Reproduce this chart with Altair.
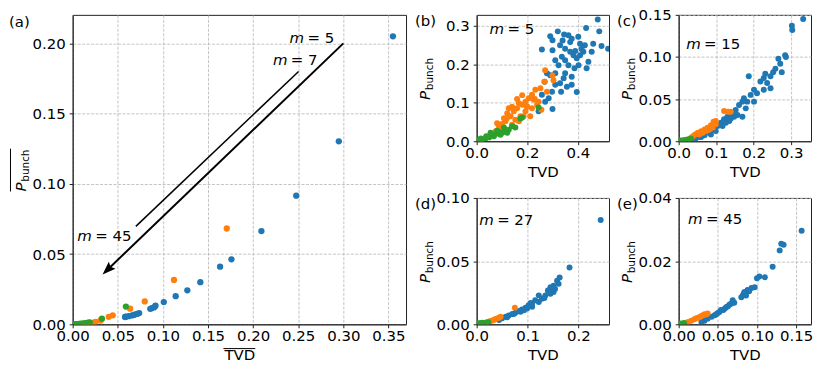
import altair as alt
import pandas as pd

FONT = "DejaVu Sans"
SERIES = ["s1", "s2", "s3"]
COLORS = ["#1f77b4", "#ff7f0e", "#2ca02c"]
FRAME = "#222222"
GRID = "#b4b4b4"

# ---------------- panel (a): averages ----------------
A_BLUE_X = [0.355, 0.295, 0.2478, 0.2092, 0.1760, 0.1634, 0.1415, 0.1271, 0.1142, 0.1010,
            0.0918, 0.0905, 0.0878, 0.0860, 0.0737, 0.0713, 0.0684, 0.0658, 0.0621, 0.0590, 0.0580]
A_BLUE_Y = [0.205, 0.1303, 0.0916, 0.0664, 0.0463, 0.0410, 0.0300, 0.0242, 0.0200, 0.0158,
            0.0132, 0.0122, 0.0115, 0.0110, 0.0080, 0.0074, 0.0068, 0.0063, 0.0058, 0.0054, 0.0052]
A_ORANGE_X = [0.1708, 0.1123, 0.0799, 0.0637, 0.0444, 0.0400, 0.0309, 0.0255, 0.0235, 0.0200, 0.0160, 0.0120]
A_ORANGE_Y = [0.0682, 0.0316, 0.0163, 0.0111, 0.0064, 0.0053, 0.0027, 0.0017, 0.0012, 0.0009, 0.0006, 0.0004]
A_GREEN_X = [0.0590, 0.0324, 0.0190, 0.0170, 0.0150, 0.0130, 0.0110, 0.0090, 0.0070, 0.0050, 0.0030, 0.0010]
A_GREEN_Y = [0.0126, 0.0040, 0.0014, 0.0011, 0.0009, 0.0007, 0.0005, 0.0004, 0.0003, 0.0002, 0.0001, 0.0000]

# ---------------- panel (b): m = 5 ----------------
B_BLUE_X = [0.479, 0.433, 0.485, 0.321, 0.291, 0.300, 0.346, 0.363, 0.376, 0.402, 0.409, 0.428, 0.461,
            0.494, 0.258, 0.300, 0.330, 0.350, 0.370, 0.383, 0.396, 0.409, 0.422, 0.442, 0.403, 0.387,
            0.363, 0.350, 0.337, 0.324, 0.311, 0.291, 0.278, 0.350, 0.376, 0.344, 0.330, 0.311, 0.298,
            0.334, 0.396, 0.285, 0.271, 0.300, 0.245, 0.269, 0.357, 0.258, 0.455, 0.435, 0.311, 0.376,
            0.520, 0.390, 0.370, 0.415, 0.340]
B_BLUE_Y = [0.317, 0.295, 0.286, 0.286, 0.273, 0.263, 0.278, 0.276, 0.267, 0.272, 0.254, 0.250, 0.254,
            0.248, 0.239, 0.237, 0.250, 0.241, 0.233, 0.224, 0.216, 0.224, 0.233, 0.207, 0.198, 0.190,
            0.198, 0.211, 0.220, 0.198, 0.177, 0.172, 0.177, 0.177, 0.168, 0.164, 0.151, 0.147, 0.129,
            0.129, 0.128, 0.112, 0.103, 0.084, 0.078, 0.155, 0.142, 0.121, 0.233, 0.190, 0.211, 0.147,
            0.241, 0.235, 0.258, 0.240, 0.262]
B_ORANGE_X = [0.268, 0.304, 0.300, 0.271, 0.252, 0.278, 0.232, 0.219, 0.206, 0.245, 0.256, 0.193, 0.180,
              0.167, 0.160, 0.147, 0.134, 0.127, 0.193, 0.219, 0.173, 0.153, 0.114, 0.088, 0.101, 0.075,
              0.062, 0.049, 0.140, 0.167, 0.212, 0.239, 0.199, 0.121, 0.108, 0.081, 0.035, 0.022, 0.186,
              0.226, 0.160, 0.180, 0.140, 0.200, 0.230, 0.120, 0.100]
B_ORANGE_Y = [0.155, 0.159, 0.171, 0.185, 0.138, 0.129, 0.134, 0.121, 0.112, 0.103, 0.082, 0.103, 0.095,
              0.099, 0.086, 0.078, 0.065, 0.086, 0.078, 0.086, 0.065, 0.056, 0.052, 0.039, 0.030, 0.026,
              0.017, 0.013, 0.043, 0.052, 0.065, 0.095, 0.091, 0.073, 0.060, 0.047, 0.009, 0.004, 0.065,
              0.108, 0.110, 0.120, 0.090, 0.090, 0.110, 0.060, 0.045]
B_GREEN_X = [0.245, 0.180, 0.173, 0.140, 0.114, 0.088, 0.075, 0.062, 0.049, 0.035, 0.022, 0.009,
             0.101, 0.127, 0.094, 0.068, 0.055, 0.081, 0.108, 0.038, 0.016, 0.003, 0.153, 0.121]
B_GREEN_Y = [0.088, 0.062, 0.059, 0.039, 0.030, 0.024, 0.019, 0.016, 0.010, 0.007, 0.004, 0.002,
             0.022, 0.030, 0.017, 0.013, 0.022, 0.027, 0.036, 0.013, 0.007, 0.002, 0.036, 0.022]

# ---------------- panel (c): m = 15 ----------------
C_BLUE_X = [0.332, 0.302, 0.303, 0.284, 0.286, 0.266, 0.271, 0.252, 0.275, 0.245, 0.231, 0.227, 0.218,
            0.201, 0.187, 0.209, 0.192, 0.174, 0.170, 0.161, 0.183, 0.170, 0.152, 0.143, 0.130, 0.121,
            0.113, 0.104, 0.095, 0.082, 0.069, 0.055, 0.139, 0.157, 0.126, 0.117, 0.236, 0.245, 0.227,
            0.179, 0.201, 0.258, 0.099, 0.086, 0.148, 0.135, 0.060, 0.045]
C_BLUE_Y = [0.145, 0.137, 0.132, 0.102, 0.100, 0.098, 0.092, 0.082, 0.082, 0.077, 0.080, 0.075, 0.071,
            0.061, 0.077, 0.057, 0.055, 0.051, 0.047, 0.043, 0.047, 0.029, 0.037, 0.033, 0.029, 0.026,
            0.022, 0.018, 0.014, 0.010, 0.007, 0.005, 0.027, 0.031, 0.022, 0.018, 0.069, 0.063, 0.061,
            0.039, 0.047, 0.086, 0.012, 0.008, 0.029, 0.024, 0.005, 0.003]
C_ORANGE_X = [0.121, 0.132, 0.139, 0.099, 0.095, 0.086, 0.077, 0.069, 0.060, 0.051, 0.044, 0.038, 0.091,
              0.082, 0.073, 0.064, 0.099, 0.093, 0.055, 0.033, 0.077]
C_ORANGE_Y = [0.036, 0.035, 0.035, 0.024, 0.020, 0.019, 0.016, 0.014, 0.012, 0.010, 0.008, 0.006, 0.016,
              0.014, 0.012, 0.010, 0.020, 0.023, 0.008, 0.004, 0.013]
C_GREEN_X = [0.003, 0.009, 0.016, 0.023, 0.029, 0.033]
C_GREEN_Y = [0.001, 0.001, 0.0016, 0.002, 0.0024, 0.003]

# ---------------- panel (d): m = 27 ----------------
D_BLUE_X = [0.2436, 0.1824, 0.163, 0.158, 0.161, 0.151, 0.145, 0.140, 0.151, 0.135, 0.122, 0.128, 0.115,
            0.109, 0.102, 0.096, 0.089, 0.083, 0.076, 0.070, 0.063, 0.057, 0.050, 0.044, 0.122, 0.109,
            0.099, 0.086, 0.073, 0.145, 0.133, 0.106, 0.093, 0.060, 0.154]
D_BLUE_Y = [0.0826, 0.0449, 0.0371, 0.0345, 0.0320, 0.0306, 0.0294, 0.0268, 0.0255, 0.0229, 0.0229,
            0.0203, 0.0190, 0.0164, 0.0151, 0.0132, 0.0117, 0.0106, 0.0091, 0.0081, 0.0070, 0.0060,
            0.0047, 0.0034, 0.0177, 0.0138, 0.0125, 0.0099, 0.0081, 0.0242, 0.0208, 0.0169, 0.0112,
            0.0055, 0.0280]
D_ORANGE_X = [0.075, 0.047, 0.040, 0.034, 0.027, 0.021, 0.037, 0.031, 0.044]
D_ORANGE_Y = [0.0132, 0.0060, 0.0047, 0.0034, 0.0026, 0.0018, 0.0042, 0.0031, 0.0052]
D_GREEN_X = [0.003, 0.008, 0.012, 0.018, 0.023]
D_GREEN_Y = [0.0008, 0.0010, 0.0013, 0.0013, 0.0016]

# ---------------- panel (e): m = 45 ----------------
E_BLUE_X = [0.157, 0.131, 0.134, 0.129, 0.120, 0.110, 0.103, 0.100, 0.097, 0.093, 0.088, 0.084, 0.082,
            0.086, 0.083, 0.069, 0.067, 0.063, 0.059, 0.054, 0.050, 0.046, 0.042, 0.037, 0.033, 0.029,
            0.061, 0.057, 0.065, 0.071, 0.052, 0.048, 0.090, 0.080]
E_BLUE_Y = [0.0296, 0.0255, 0.0252, 0.0234, 0.0182, 0.0149, 0.0151, 0.0146, 0.0117, 0.0115, 0.0109,
            0.0102, 0.0091, 0.0091, 0.0097, 0.0076, 0.0065, 0.0057, 0.0050, 0.0045, 0.0036, 0.0029,
            0.0024, 0.0018, 0.0011, 0.0007, 0.0055, 0.0045, 0.0063, 0.0068, 0.0039, 0.0032, 0.0105,
            0.0086]
E_ORANGE_X = [0.037, 0.033, 0.029, 0.025, 0.020, 0.016, 0.012, 0.031, 0.035, 0.027, 0.0225]
E_ORANGE_Y = [0.0034, 0.0032, 0.0026, 0.0021, 0.0016, 0.0011, 0.0007, 0.0029, 0.0031, 0.0023, 0.0019]
E_GREEN_X = [0.001, 0.004, 0.007]
E_GREEN_Y = [0.0003, 0.0003, 0.0004]

# ---------------- annotations ----------------
ARROW_X = [0.300, 0.038]
ARROW_Y = [0.200, 0.0385]
ARROW_TIP_X = [0.0331]
ARROW_TIP_Y = [0.0354]
LINE7_X = [0.2504, 0.070]
LINE7_Y = [0.180, 0.0697]
A_LABEL_X = [0.2404, 0.222, 0.0052]
A_LABEL_Y = [0.200, 0.1846, 0.0595]
A_LABEL_REST = ["= 5", "= 7", "= 45"]

ARROW_PATH = "M0,0 L0.36,1 L0,0.84 L-0.36,1 Z"


def points_df(xs_list, ys_list):
    rows = []
    for name, xs, ys in zip(SERIES, xs_list, ys_list):
        for x, y in zip(xs, ys):
            rows.append({"x": x, "y": y, "s": name})
    return pd.DataFrame(rows)


def make_axis(values, fmt, title, label_pad):
    kw = dict(values=values, format=fmt, grid=True, gridColor=GRID, gridDash=[3, 1.5], gridWidth=0.8,
              domainColor=FRAME, domainWidth=1, tickColor=FRAME, tickSize=3.5, tickWidth=1,
              labelFont=FONT, labelFontSize=15, labelColor="black", labelPadding=label_pad,
              labelFlush=False, labelOverlap=False, labelBound=False,
              titleFont=FONT, titleFontSize=15, titleFontWeight="normal", titleColor="black",
              titlePadding=4)
    return alt.Axis(title=title, **kw)


def one(v):
    return pd.DataFrame({"v": [v]})


def panel(df, xdom, ydom, xvals, yvals, xfmt, yfmt, w, h, tag, labels, size,
          xtitle="TVD", extra=None, overline=False):
    X = alt.X("x:Q", scale=alt.Scale(domain=xdom, nice=False, zero=False),
              axis=make_axis(xvals, xfmt, xtitle, 1))
    Y = alt.Y("y:Q", scale=alt.Scale(domain=ydom, nice=False, zero=False),
              axis=make_axis(yvals, yfmt, None, 4))
    pts = alt.Chart(df).mark_circle(size=size, opacity=1, clip=True).encode(
        X, Y, color=alt.Color("s:N", scale=alt.Scale(domain=SERIES, range=COLORS), legend=None))
    layers = []
    if extra is not None:
        layers += extra(X, Y)
    layers.append(pts)
    lab = pd.DataFrame(labels)
    layers.append(alt.Chart(lab).mark_text(font=FONT, fontSize=15, fontStyle="italic", align="left",
                                           baseline="alphabetic", color="black").encode(
        X, Y, text=alt.value("m")))
    layers.append(alt.Chart(lab).mark_text(font=FONT, fontSize=15, align="left", dx=18,
                                           baseline="alphabetic", color="black").encode(
        X, Y, text="rest:N"))
    # panel tag
    tx, ty = (-64, 7) if tag == "(a)" else (-62, 6)
    layers.append(alt.Chart(one(tag)).mark_text(font=FONT, fontSize=15, align="left", baseline="middle",
                                                color="black").encode(
        x=alt.value(tx), y=alt.value(ty), text="v:N"))
    # y title: P_bunch
    layers.append(alt.Chart(one("P")).mark_text(font=FONT, fontSize=15, fontStyle="italic", angle=270,
                                                align="left", baseline="alphabetic", color="black").encode(
        x=alt.value(-47), y=alt.value(h / 2 + 22), text="v:N"))
    layers.append(alt.Chart(one("bunch")).mark_text(font=FONT, fontSize=10.5, angle=270,
                                                    align="left", baseline="alphabetic", color="black").encode(
        x=alt.value(-44), y=alt.value(h / 2 + 12.2), text="v:N"))
    if overline:
        layers.append(alt.Chart(one(0)).mark_rule(color="black", strokeWidth=1).encode(
            x=alt.value(-62.5), y=alt.value(h / 2 - 21), y2=alt.value(h / 2 + 22)))
        layers.append(alt.Chart(one(0)).mark_rule(color="black", strokeWidth=1).encode(
            x=alt.value(w / 2 - 16), x2=alt.value(w / 2 + 16), y=alt.value(h + 24.4)))
    return alt.layer(*layers).properties(width=w, height=h)


def a_extra(X, Y):
    arrow = alt.Chart(pd.DataFrame({"x": ARROW_X, "y": ARROW_Y})).mark_line(
        color="black", strokeWidth=2).encode(X, Y)
    line7 = alt.Chart(pd.DataFrame({"x": LINE7_X, "y": LINE7_Y})).mark_line(
        color="black", strokeWidth=1.5).encode(X, Y)
    head = alt.Chart(pd.DataFrame({"x": ARROW_TIP_X, "y": ARROW_TIP_Y})).mark_point(
        shape=ARROW_PATH, filled=True, size=720, angle=226, color="black", opacity=1,
        strokeWidth=0).encode(X, Y)
    return [line7, arrow, head]


a = panel(points_df([A_BLUE_X, A_ORANGE_X, A_GREEN_X], [A_BLUE_Y, A_ORANGE_Y, A_GREEN_Y]),
          [0, 0.3695], [0, 0.2203],
          [0, 0.05, 0.10, 0.15, 0.20, 0.25, 0.30, 0.35], [0, 0.05, 0.10, 0.15, 0.20],
          ".2f", ".2f", 335, 311, "(a)",
          {"x": A_LABEL_X, "y": A_LABEL_Y, "rest": A_LABEL_REST}, 40,
          xtitle="TVD", extra=a_extra, overline=True)

b = panel(points_df([B_BLUE_X, B_ORANGE_X, B_GREEN_X], [B_BLUE_Y, B_ORANGE_Y, B_GREEN_Y]),
          [0, 0.5236], [0, 0.329], [0, 0.2, 0.4], [0, 0.1, 0.2, 0.3], ".1f", ".1f", 133, 127, "(b)",
          {"x": [0.051], "y": [0.28], "rest": ["= 5"]}, 36)
c = panel(points_df([C_BLUE_X, C_ORANGE_X, C_GREEN_X], [C_BLUE_Y, C_ORANGE_Y, C_GREEN_Y]),
          [0, 0.353], [0, 0.15], [0, 0.1, 0.2, 0.3], [0, 0.05, 0.10, 0.15], ".1f", ".2f", 133, 127, "(c)",
          {"x": [0.020], "y": [0.109], "rest": ["= 15"]}, 36)
d = panel(points_df([D_BLUE_X, D_ORANGE_X, D_GREEN_X], [D_BLUE_Y, D_ORANGE_Y, D_GREEN_Y]),
          [0, 0.26], [0, 0.10], [0, 0.1, 0.2], [0, 0.05, 0.10], ".1f", ".2f", 133, 127, "(d)",
          {"x": [0.005], "y": [0.0787], "rest": ["= 27"]}, 36)
e = panel(points_df([E_BLUE_X, E_ORANGE_X, E_GREEN_X], [E_BLUE_Y, E_ORANGE_Y, E_GREEN_Y]),
          [0, 0.169], [0, 0.04], [0, 0.05, 0.10, 0.15], [0, 0.02, 0.04], ".2f", ".2f", 133, 127, "(e)",
          {"x": [0.012], "y": [0.0317], "rest": ["= 45"]}, 36)

# nested flush groups report no height, so the row step is panel height + gap
right = alt.vconcat(alt.hconcat(b, c, spacing=70, bounds="flush"),
                    alt.hconcat(d, e, spacing=70, bounds="flush"),
                    spacing=127 + 57, bounds="flush")
chart = alt.hconcat(a, right, spacing=71, bounds="flush").properties(
    padding={"left": 0, "top": -2, "right": 0, "bottom": 0}
).configure_view(stroke=FRAME, strokeWidth=1)

chart.save("out.html", embed_options={"renderer": "svg", "actions": False})
